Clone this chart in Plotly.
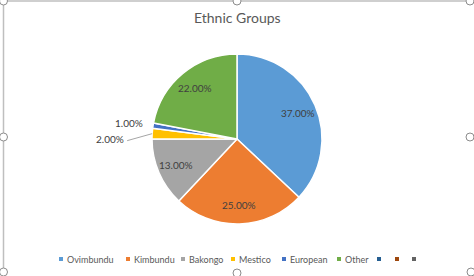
import math
import plotly.graph_objects as go

# ---- data ----
categories = ["Ovimbundu", "Kimbundu", "Bakongo", "Mestico", "European", "Other"]
values = [37, 25, 13, 2, 1, 22]
slice_colors = ["#5B9BD5", "#ED7D31", "#A5A5A5", "#FFC000", "#4472C4", "#70AD47"]
legend_labels = categories + ["", "", ""]
legend_colors = slice_colors + ["#255E91", "#9E480E", "#636363"]
title_text = "Ethnic Groups"

# ---- geometry (pixels) ----
W, H = 474, 276
CX, CY, R = 237, 139, 85
FONT = "Lato"
TXT = "#404040"
GRAY = "#595959"


def px(x):
    return x / W


def py(y):
    return 1 - y / H


fig = go.Figure()
fig.add_trace(go.Pie(
    labels=categories,
    values=values,
    sort=False,
    direction="clockwise",
    rotation=0,
    marker=dict(colors=slice_colors, line=dict(color="white", width=1.5)),
    textinfo="none",
    hoverinfo="label+percent",
    showlegend=False,
    domain=dict(x=[px(CX - R), px(CX + R)], y=[py(CY + R), py(CY - R)]),
))

annotations = []
shapes = []
total = sum(values)
cum = 0
for i, v in enumerate(values):
    mid = (cum + v / 2) / total
    cum += v
    th = 2 * math.pi * mid
    label = f"{v / total * 100:.2f}%"
    if v / total >= 0.05:
        f = 0.78
        x = CX + R * f * math.sin(th)
        y = CY - R * f * math.cos(th)
        annotations.append(dict(x=px(x), y=py(y), xref="paper", yref="paper",
                                xanchor="center", yanchor="middle",
                                text=label, showarrow=False,
                                font=dict(family=FONT, size=10, color=TXT)))
    else:
        ex = CX + R * math.sin(th)
        ey = CY - R * math.cos(th)
        big = v / total >= 0.015
        dx, dy = (-26, 5) if big else (-8, -3)
        lx, ly = ex + dx, ey + dy
        annotations.append(dict(x=px(lx), y=py(ly), xref="paper", yref="paper",
                                xanchor="right", yanchor="middle",
                                text=label, showarrow=False,
                                font=dict(family=FONT, size=10, color=TXT)))
        if big:
            shapes.append(dict(type="line", xref="paper", yref="paper",
                               x0=px(lx + 1), y0=py(ly + 2), x1=px(ex), y1=py(ey),
                               line=dict(color="#A6A6A6", width=1)))

# ---- legend (manual, Excel-like) ----
leg_x = [61, 128, 183, 233, 284, 339, 379, 397, 414]
LEG_Y = 259
for lx, lab, col in zip(leg_x, legend_labels, legend_colors):
    shapes.append(dict(type="rect", xref="paper", yref="paper",
                       x0=px(lx - 2), x1=px(lx + 2), y0=py(LEG_Y + 2), y1=py(LEG_Y - 2),
                       fillcolor=col, line=dict(width=0)))
    if lab:
        annotations.append(dict(x=px(lx + 4), y=py(LEG_Y), xref="paper", yref="paper",
                                text=lab, showarrow=False, xanchor="left", yanchor="middle",
                                font=dict(family=FONT, size=9, color=GRAY)))

# ---- chart frame (selection border and handles) ----
FR = "#BFBFBF"
shapes.append(dict(type="line", xref="paper", yref="paper",
                   x0=px(3.5), x1=px(3.5), y0=py(1), y1=py(276), line=dict(color=FR, width=1.5)))
shapes.append(dict(type="line", xref="paper", yref="paper",
                   x0=px(3.5), x1=px(470), y0=py(1), y1=py(1), line=dict(color=FR, width=1.5)))
for hx, hy in [(3.5, 137), (470, 137), (237, 1), (237, 273), (3.5, 272), (471, 272), (470, 1), (3.5, 1)]:
    shapes.append(dict(type="circle", xref="paper", yref="paper",
                       x0=px(hx - 4), x1=px(hx + 4), y0=py(hy + 4), y1=py(hy - 4),
                       fillcolor="white", line=dict(color="#8C8C8C", width=1)))

annotations.append(dict(x=px(CX), y=py(18), xref="paper", yref="paper",
                        xanchor="center", yanchor="middle",
                        text=title_text, showarrow=False,
                        font=dict(family=FONT, size=14, color=GRAY)))

fig.update_layout(
    width=W, height=H,
    margin=dict(l=0, r=0, t=0, b=0),
    paper_bgcolor="white",
    plot_bgcolor="white",
    showlegend=False,
    annotations=annotations,
    shapes=shapes,
)

fig.write_html("out.html")
